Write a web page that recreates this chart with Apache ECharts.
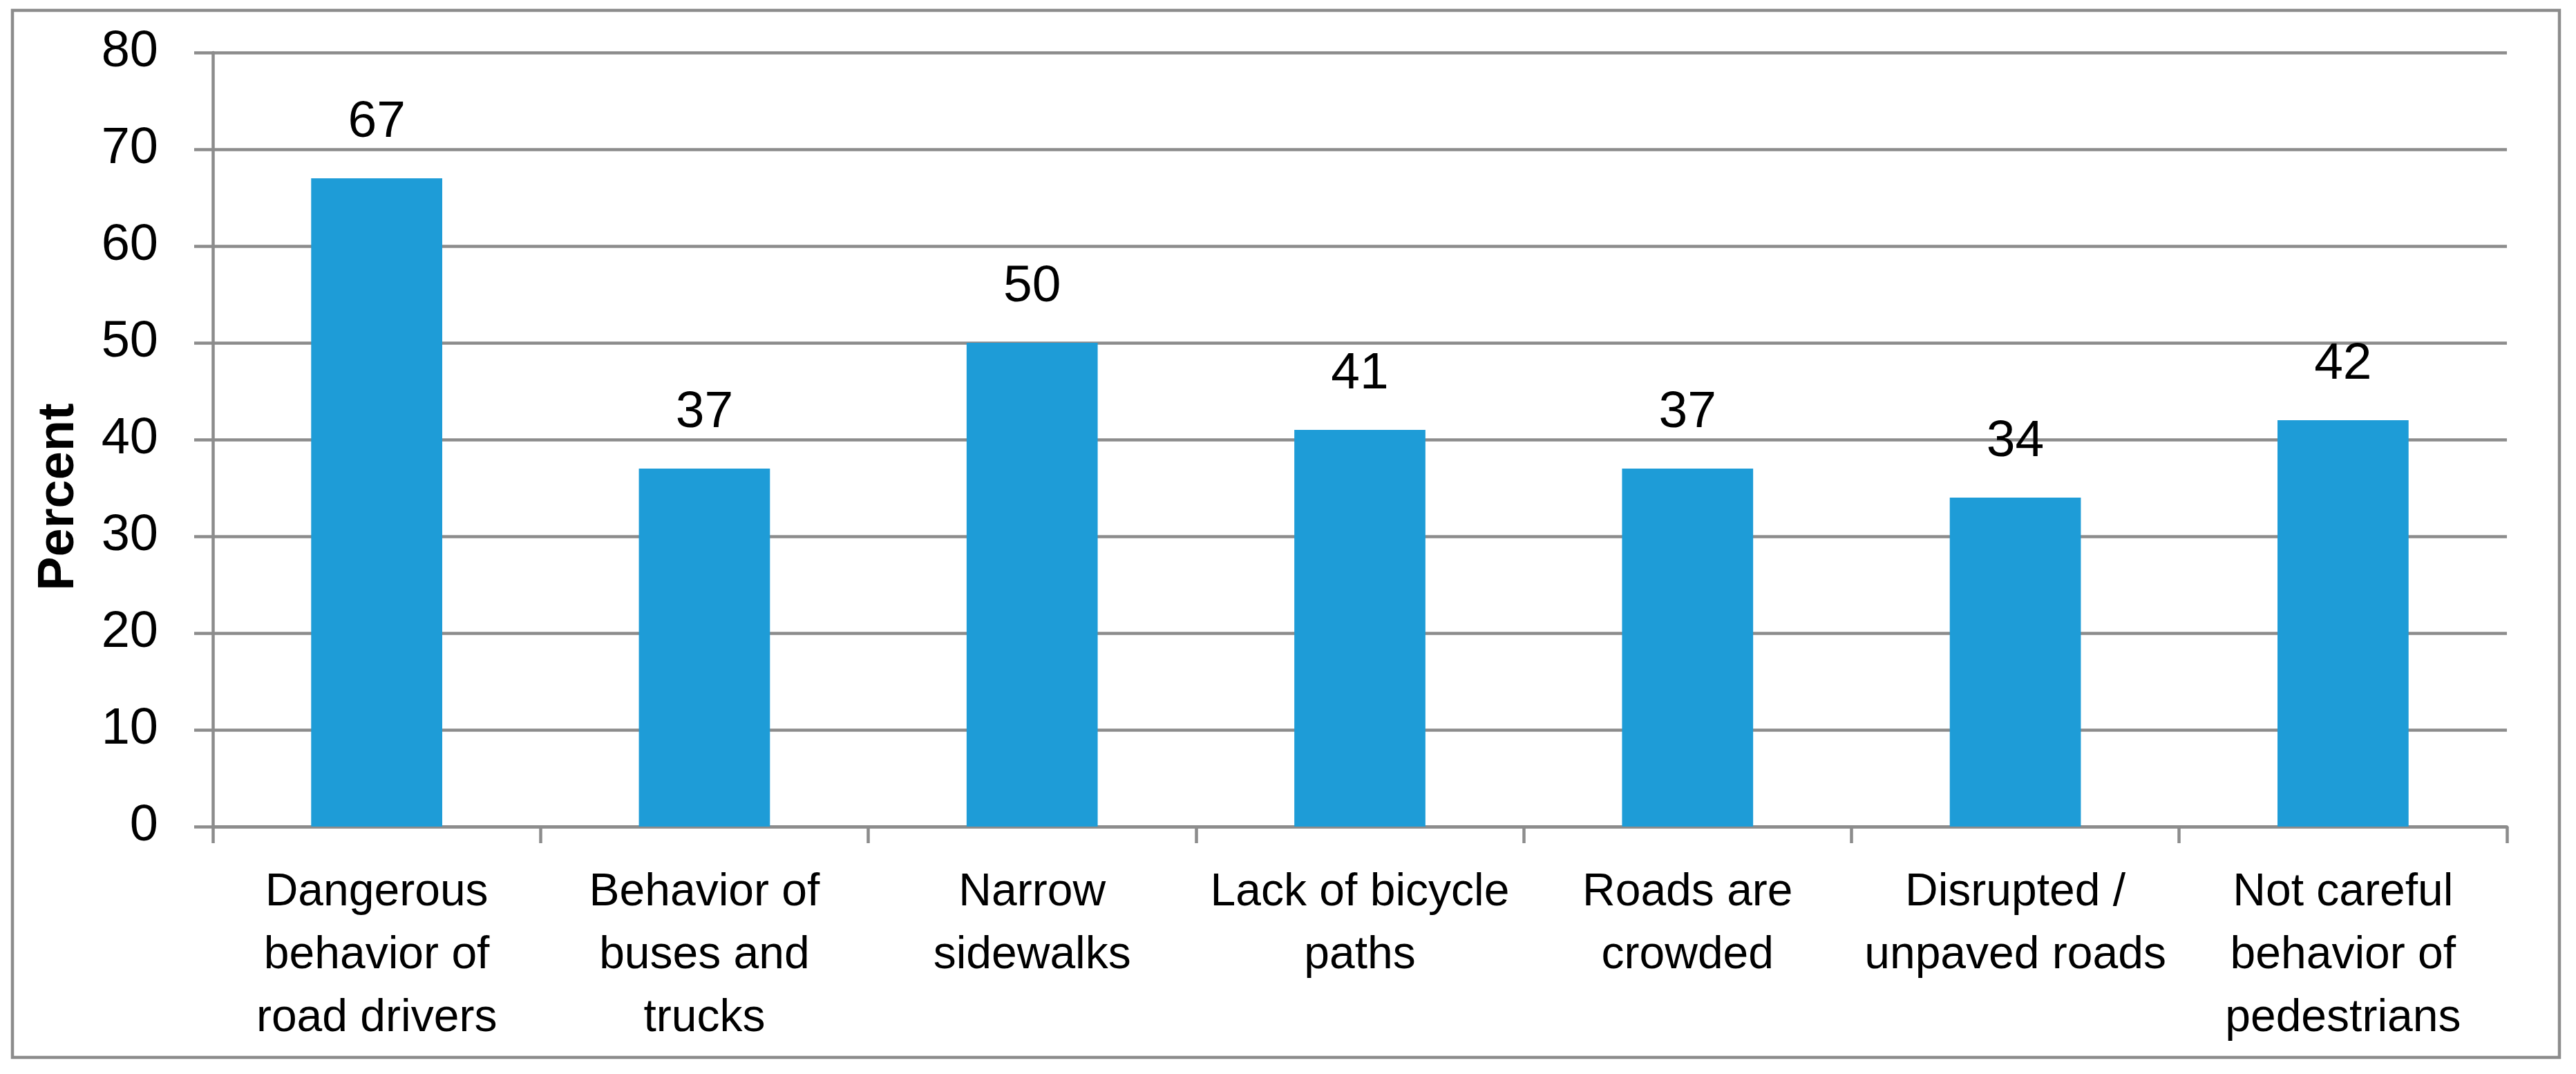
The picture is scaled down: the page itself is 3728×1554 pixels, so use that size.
<!DOCTYPE html>
<html>
<head>
<meta charset="utf-8">
<script src="https://cdn.jsdelivr.net/npm/echarts@6/dist/echarts.min.js"></script>
<style>
html,body{margin:0;padding:0;background:#fff;}
#chart{width:3728px;height:1554px;}
</style>
</head>
<body>
<div id="chart"></div>
<script>
const categories = [
  "Dangerous\nbehavior of\nroad drivers",
  "Behavior of\nbuses and\ntrucks",
  "Narrow\nsidewalks",
  "Lack of bicycle\npaths",
  "Roads are\ncrowded",
  "Disrupted /\nunpaved roads",
  "Not careful\nbehavior of\npedestrians"
];
const percentValues = [67, 37, 50, 41, 37, 34, 42];
const yAxisTitle = "Percent";
const yMin = 0, yMax = 80, yInterval = 10;

const FONT = "'Liberation Sans', Arial, sans-serif";
const GRAY = '#8c8c8c';

const chart = echarts.init(document.getElementById('chart'));
chart.setOption({
  backgroundColor: '#ffffff',
  animation: false,
  grid: { left: 308, right: 100, top: 76, bottom: 358, containLabel: false },
  xAxis: {
    type: 'category',
    data: categories,
    boundaryGap: true,
    axisLine: { show: true, lineStyle: { color: GRAY, width: 4.5 } },
    axisTick: { show: true, length: 24, alignWithLabel: false, lineStyle: { color: GRAY, width: 4.5 } },
    axisLabel: { interval: 0, margin: 50, color: '#000', fontFamily: FONT, fontSize: 66, lineHeight: 91, align: 'center' },
    splitLine: { show: false }
  },
  yAxis: {
    type: 'value',
    min: yMin, max: yMax, interval: yInterval,
    axisLine: { show: true, lineStyle: { color: GRAY, width: 4.5 } },
    axisTick: { show: true, length: 27, lineStyle: { color: GRAY, width: 4.5 } },
    axisLabel: { margin: 79, color: '#000', fontFamily: FONT, fontSize: 74 },
    splitLine: { show: true, lineStyle: { color: GRAY, width: 4.5 } }
  },
  graphic: [
    {
      type: 'rect',
      shape: { x: 18, y: 15, width: 3686, height: 1515 },
      style: { fill: 'none', stroke: GRAY, lineWidth: 4.5 },
      z: 0
    },
    {
      type: 'text',
      x: 86, y: 719,
      rotation: Math.PI / 2,
      style: {
        text: yAxisTitle,
        font: "bold 74px 'Liberation Sans', Arial, sans-serif",
        fill: '#000',
        textAlign: 'center',
        textVerticalAlign: 'middle'
      },
      z: 10
    }
  ],
  series: [{
    type: 'bar',
    data: percentValues,
    barWidth: '40%',
    itemStyle: { color: '#1e9cd7' },
    label: { show: true, position: 'top', distance: 43, color: '#000', fontFamily: FONT, fontSize: 75 },
    z: 3
  }]
});
</script>
</body>
</html>
